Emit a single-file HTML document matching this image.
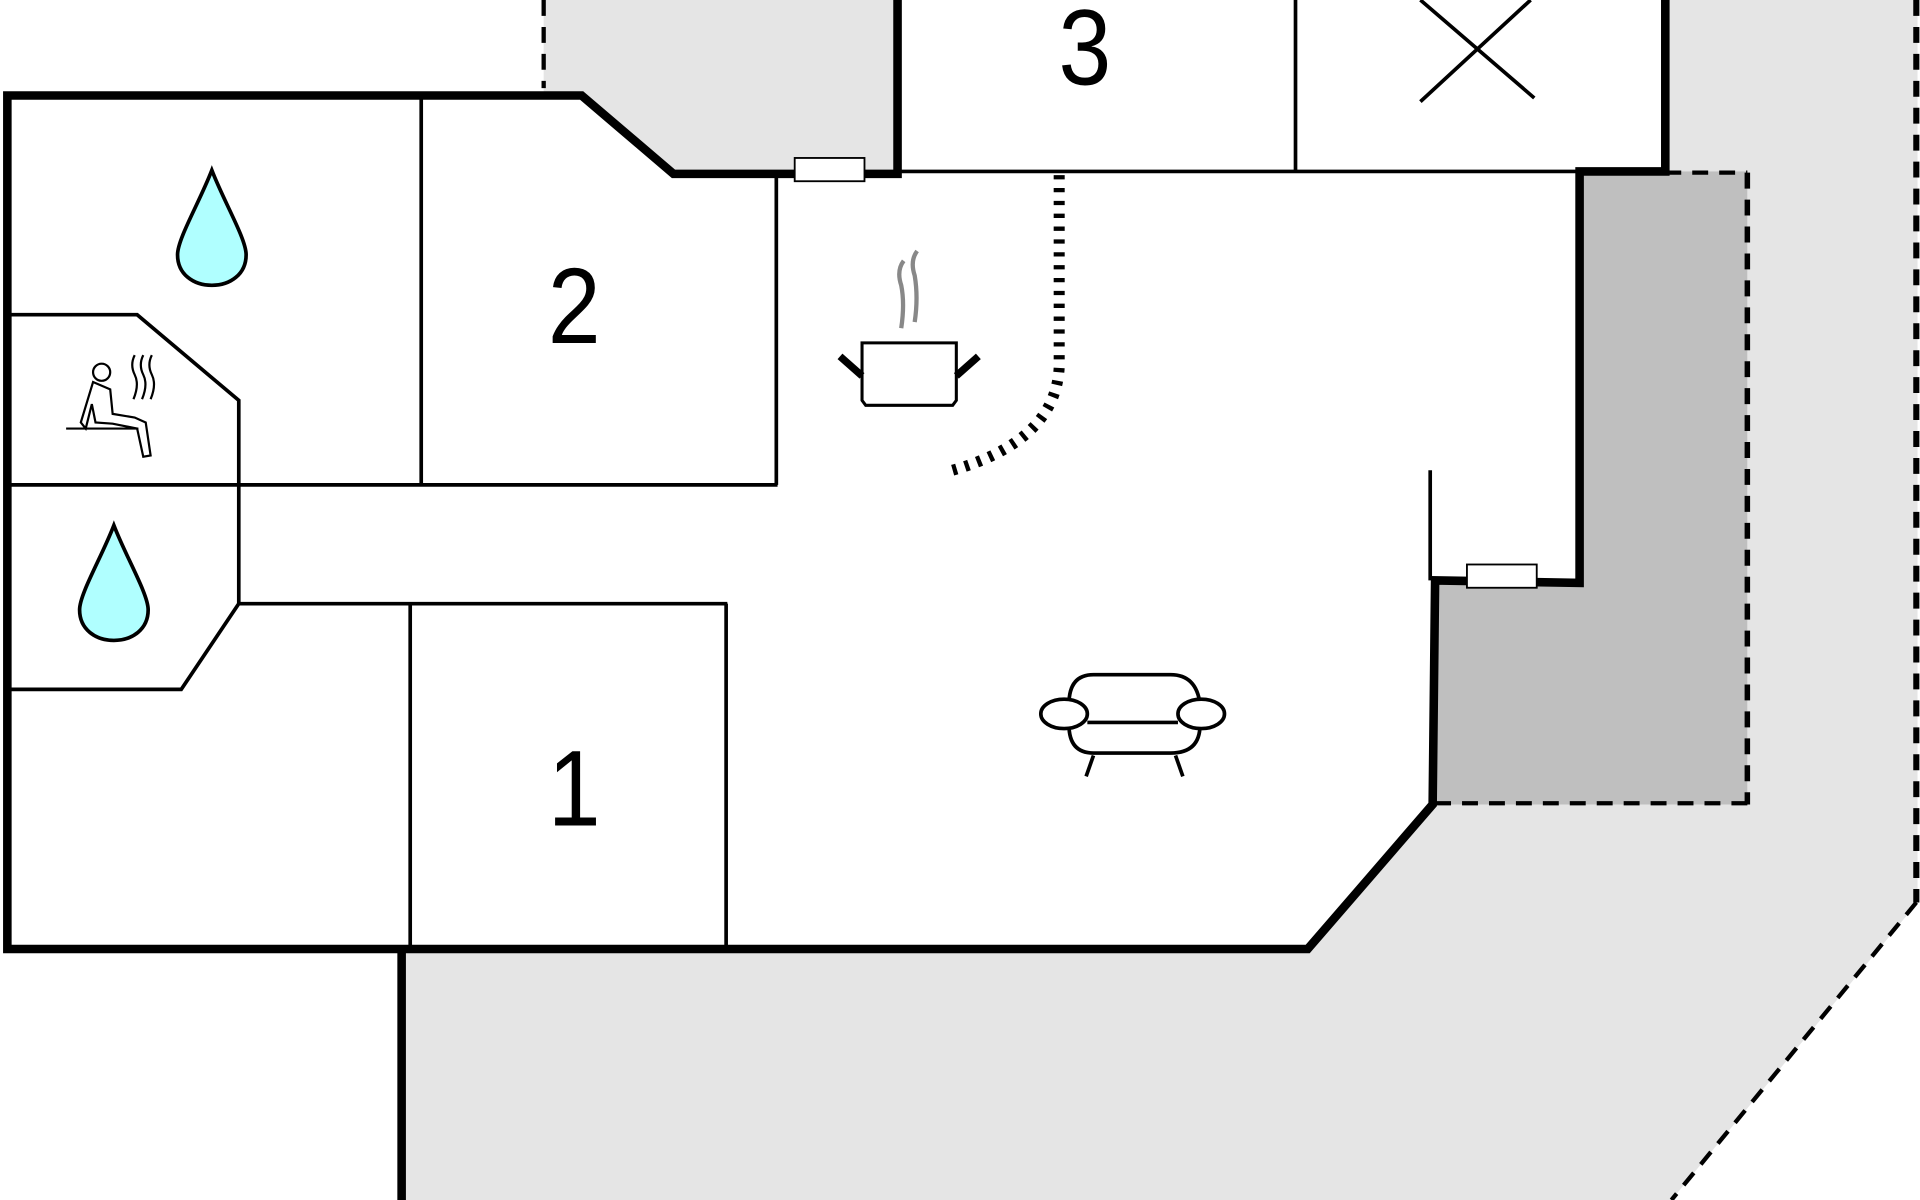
<!DOCTYPE html>
<html><head><meta charset="utf-8"><style>html,body{margin:0;padding:0;background:#fff}svg{display:block}</style></head>
<body>
<svg width="1920" height="1200" viewBox="0 0 1568 980" xmlns="http://www.w3.org/2000/svg">
<rect width="1568" height="980" fill="#fff"/>
<polygon points="1360,0 1566,0 1566,737 1365,980 330,980 330,775 1068,775 1170,657 1427,657 1427,140 1360,140" fill="#e5e5e5"/>
<polygon points="444,0 733,0 733,142 550,142 475,75 444,75" fill="#e5e5e5"/>
<polygon points="1290,140 1427,140 1427,657 1170,657 1172,474 1290,476" fill="#bfbfbf"/>
<g fill="none" stroke="#000" stroke-width="3.5" stroke-dasharray="13 9">
<line x1="444" y1="0" x2="444" y2="72"/>
<line x1="1565" y1="0" x2="1565" y2="737" stroke-width="5"/>
<line x1="1565" y1="737" x2="1365" y2="980"/>
<line x1="1360" y1="141" x2="1427" y2="141"/>
<line x1="1427" y1="141" x2="1427" y2="657" stroke-width="4.5"/>
<line x1="1172" y1="656" x2="1427" y2="656"/>
</g>
<g fill="none" stroke="#000" stroke-width="3">
<line x1="735" y1="140" x2="1290" y2="140"/>
<line x1="1058" y1="0" x2="1058" y2="140"/>
<line x1="344" y1="78" x2="344" y2="396"/>
<line x1="6" y1="396" x2="635" y2="396"/>
<line x1="634" y1="142" x2="634" y2="396"/>
<polyline points="6,257 112,257 195,327 195,493 148,563 6,563"/>
<line x1="195" y1="493" x2="594" y2="493"/>
<line x1="593" y1="493" x2="593" y2="775"/>
<line x1="335" y1="493" x2="335" y2="775"/>
<line x1="1168" y1="384" x2="1168" y2="474"/>
<line x1="1160" y1="0" x2="1253" y2="80"/>
<line x1="1160" y1="83" x2="1250" y2="0"/>
</g>
<g fill="none" stroke="#000" stroke-width="7" stroke-linejoin="miter">
<polyline points="733,0 733,142 550,142 475,78 6,78 6,775 1068,775 1170,657 1172,474 1290,476 1290,140 1360,140 1360,0"/>
<line x1="328" y1="775" x2="328" y2="980"/>
</g>
<rect x="649" y="129" width="57" height="19" fill="#fff" stroke="#000" stroke-width="1.5"/>
<rect x="1198" y="461" width="57" height="19" fill="#fff" stroke="#000" stroke-width="1.5"/>
<path d="M865,143 L865,300 Q862,360 778,384" fill="none" stroke="#000" stroke-width="9" stroke-dasharray="3.5 7"/>
<g font-family="Liberation Sans, sans-serif" font-size="88" text-anchor="middle" fill="#000">
<text x="886" y="69" transform="translate(886 0) scale(0.88 1) translate(-886 0)">3</text>
<text x="469" y="280" transform="translate(469 0) scale(0.88 1) translate(-469 0)">2</text>
<text x="469" y="674" transform="translate(469 0) scale(0.88 1) translate(-469 0)">1</text>
</g>
<path d="M173,139 C163,165 145,195 145,208 C145,224 158,233 173,233 C188,233 201,224 201,208 C201,195 183,165 173,139 Z" fill="#b0ffff" stroke="#000" stroke-width="3"/>
<path d="M93,429 C83,455 65,485 65,498 C65,514 78,523 93,523 C108,523 121,514 121,498 C121,485 103,455 93,429 Z" fill="#b0ffff" stroke="#000" stroke-width="3"/>
<g fill="none" stroke="#000" stroke-width="1.8">
<circle cx="83" cy="304" r="7"/>
<path d="M76,312 L66,345 L70,350 L75,330 L78,345 L92,346 L112,350 L117,373 L123,372 L119,345 L110,341 L92,338 L90,318 Z"/>
<line x1="54" y1="350" x2="113" y2="350"/>
<path d="M110,290 q-4,8 0,16 q4,8 -1,20 M117,290 q-4,8 0,16 q4,8 -1,20 M124,290 q-4,8 0,16 q4,8 -1,20"/>
</g>
<g>
<path d="M738,213 q-6,8 -2,20 q3,15 0,35 M749,205 q-6,8 -2,20 q3,18 0,38" fill="none" stroke="#888" stroke-width="3.5"/>
<path d="M704,280 L781,280 L781,327 L778,331 L707,331 L704,327 Z" fill="#fff" stroke="#000" stroke-width="2.5"/>
<line x1="686" y1="291" x2="704" y2="307" stroke="#000" stroke-width="6"/>
<line x1="799" y1="291" x2="781" y2="307" stroke="#000" stroke-width="6"/>
</g>
<g fill="none" stroke="#000" stroke-width="3">
<path d="M873,575 Q873,551 893,551 L956,551 Q977,551 980,575"/>
<path d="M873,592 Q873,615 893,615 L956,615 Q980,615 980,592"/>
<line x1="888" y1="590" x2="962" y2="590"/>
<ellipse cx="869" cy="583" rx="19" ry="12" fill="#fff"/>
<ellipse cx="981" cy="583" rx="19" ry="12" fill="#fff"/>
<line x1="893" y1="617" x2="887" y2="634"/>
<line x1="960" y1="617" x2="966" y2="634"/>
</g>
</svg>
</body></html>
